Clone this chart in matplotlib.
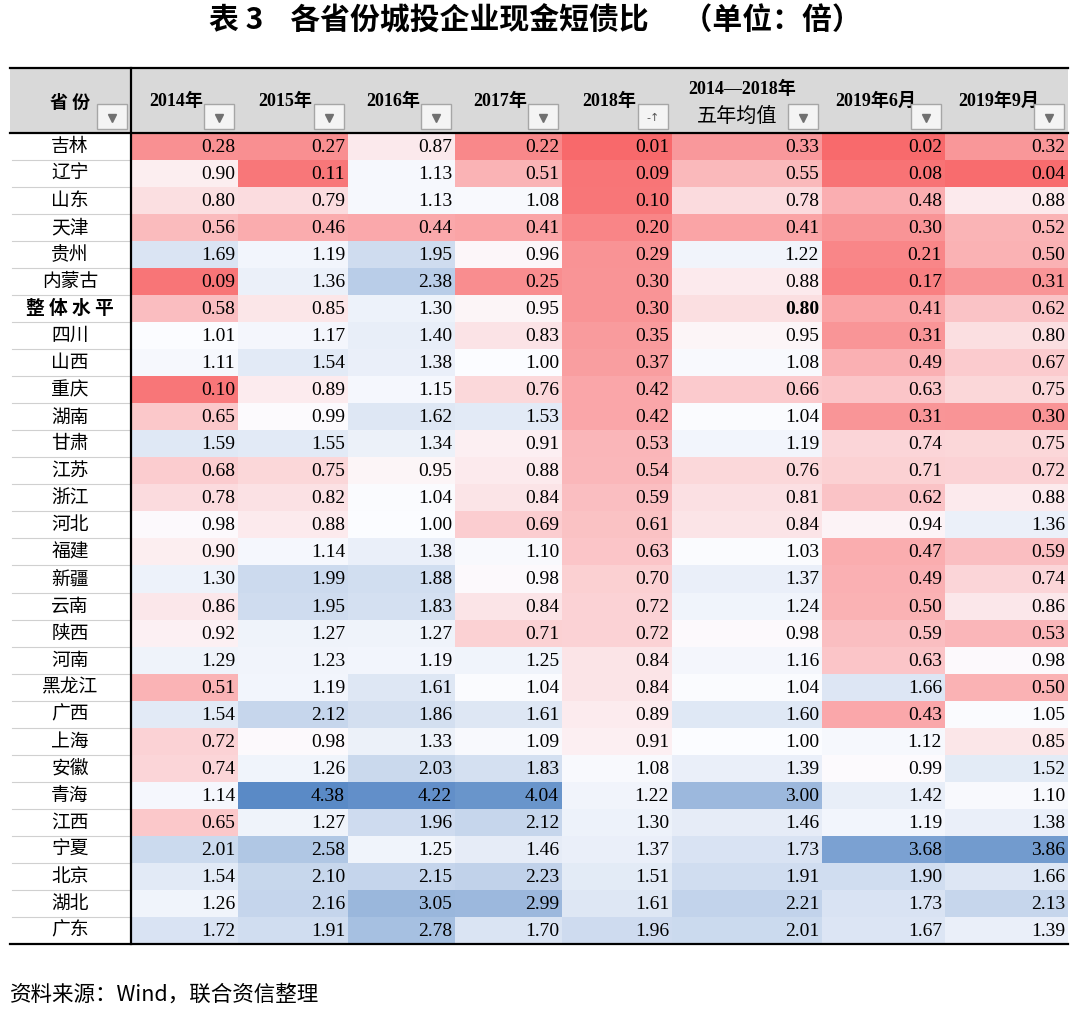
import numpy as np
import matplotlib
matplotlib.use("Agg")
import matplotlib.pyplot as plt
from matplotlib.colors import LinearSegmentedColormap, TwoSlopeNorm
from matplotlib.patches import Rectangle

# ---- data ----
provinces = ["吉林", "辽宁", "山东", "天津", "贵州", "内蒙古", "整体水平", "四川", "山西", "重庆",
             "湖南", "甘肃", "江苏", "浙江", "河北", "福建", "新疆", "云南", "陕西", "河南",
             "黑龙江", "广西", "上海", "安徽", "青海", "江西", "宁夏", "北京", "湖北", "广东"]
col_labels = ["2014年", "2015年", "2016年", "2017年", "2018年", "2014—2018年\n五年均值", "2019年6月", "2019年9月"]
y2014 = [0.28, 0.90, 0.80, 0.56, 1.69, 0.09, 0.58, 1.01, 1.11, 0.10, 0.65, 1.59, 0.68, 0.78, 0.98,
         0.90, 1.30, 0.86, 0.92, 1.29, 0.51, 1.54, 0.72, 0.74, 1.14, 0.65, 2.01, 1.54, 1.26, 1.72]
y2015 = [0.27, 0.11, 0.79, 0.46, 1.19, 1.36, 0.85, 1.17, 1.54, 0.89, 0.99, 1.55, 0.75, 0.82, 0.88,
         1.14, 1.99, 1.95, 1.27, 1.23, 1.19, 2.12, 0.98, 1.26, 4.38, 1.27, 2.58, 2.10, 2.16, 1.91]
y2016 = [0.87, 1.13, 1.13, 0.44, 1.95, 2.38, 1.30, 1.40, 1.38, 1.15, 1.62, 1.34, 0.95, 1.04, 1.00,
         1.38, 1.88, 1.83, 1.27, 1.19, 1.61, 1.86, 1.33, 2.03, 4.22, 1.96, 1.25, 2.15, 3.05, 2.78]
y2017 = [0.22, 0.51, 1.08, 0.41, 0.96, 0.25, 0.95, 0.83, 1.00, 0.76, 1.53, 0.91, 0.88, 0.84, 0.69,
         1.10, 0.98, 0.84, 0.71, 1.25, 1.04, 1.61, 1.09, 1.83, 4.04, 2.12, 1.46, 2.23, 2.99, 1.70]
y2018 = [0.01, 0.09, 0.10, 0.20, 0.29, 0.30, 0.30, 0.35, 0.37, 0.42, 0.42, 0.53, 0.54, 0.59, 0.61,
         0.63, 0.70, 0.72, 0.72, 0.84, 0.84, 0.89, 0.91, 1.08, 1.22, 1.30, 1.37, 1.51, 1.61, 1.96]
avg5 = [0.33, 0.55, 0.78, 0.41, 1.22, 0.88, 0.80, 0.95, 1.08, 0.66, 1.04, 1.19, 0.76, 0.81, 0.84,
        1.03, 1.37, 1.24, 0.98, 1.16, 1.04, 1.60, 1.00, 1.39, 3.00, 1.46, 1.73, 1.91, 2.21, 2.01]
m2019_6 = [0.02, 0.08, 0.48, 0.30, 0.21, 0.17, 0.41, 0.31, 0.49, 0.63, 0.31, 0.74, 0.71, 0.62, 0.94,
           0.47, 0.49, 0.50, 0.59, 0.63, 1.66, 0.43, 1.12, 0.99, 1.42, 1.19, 3.68, 1.90, 1.73, 1.67]
m2019_9 = [0.32, 0.04, 0.88, 0.52, 0.50, 0.31, 0.62, 0.80, 0.67, 0.75, 0.30, 0.75, 0.72, 0.88, 1.36,
           0.59, 0.74, 0.86, 0.53, 0.98, 0.50, 1.05, 0.85, 1.52, 1.10, 1.38, 3.86, 1.66, 2.13, 1.39]

values = np.array([y2014, y2015, y2016, y2017, y2018, avg5, m2019_6, m2019_9]).T

# ---- layout (pixels) ----
W, H = 1080, 1013
x_left, x_split = 10, 131
col_edges = [131, 238, 348, 455, 562, 672, 822, 945, 1068]
y_top, y_head = 68, 133
row_h = 27.03
row_edges = [y_head + i * row_h for i in range(len(provinces) + 1)]
y_bot = row_edges[-1]

SERIF = ["Liberation Serif", "Noto Sans CJK SC"]
CJK = ["Noto Sans CJK SC", "DejaVu Sans"]

fig = plt.figure(figsize=(W / 100, H / 100), dpi=100)
ax = fig.add_axes([0, 0, 1, 1])
ax.set_xlim(0, W)
ax.set_ylim(H, 0)
ax.axis("off")

# colour scale like Excel 3-colour scale (red - white - blue), midpoint around 1x
cmap = LinearSegmentedColormap.from_list("rwb", ["#F8696B", "#FCFCFF", "#5A8AC6"])
norm = TwoSlopeNorm(vmin=values.min(), vcenter=1.0, vmax=values.max())
ax.pcolormesh(col_edges, row_edges, values, cmap=cmap, norm=norm, shading="flat", edgecolors="none")

# header background
ax.add_patch(Rectangle((x_left, y_top), col_edges[-1] - x_left, y_head - y_top,
                       facecolor="#D9D9D9", edgecolor="none", zorder=1))

# title
ax.text(535, 21, "表 3    各省份城投企业现金短债比     （单位：倍）", ha="center", va="center",
        fontsize=21.5, fontweight="bold", family=CJK)


def dropdown(xr, yb, sort=False):
    bw, bh = 30, 25
    ax.add_patch(Rectangle((xr - bw, yb - bh), bw, bh, facecolor="#F4F4F4",
                           edgecolor="#A6A6A6", lw=1, zorder=3))
    if sort:
        ax.text(xr - bw / 2, yb - bh / 2 + 1, "-↑", ha="center", va="center", fontsize=8,
                color="#555555", family=["DejaVu Sans"], zorder=4)
    else:
        ax.plot([xr - bw / 2], [yb - bh / 2 + 1], marker="v", ms=6, color="#707070",
                mec="#707070", zorder=4)


# header texts
ax.text(70, 102, "省 份", ha="center", va="center", fontsize=13, fontweight="bold", family=CJK)
dropdown(x_split - 4, y_head - 4)
for i, lab in enumerate(col_labels):
    x0, x1 = col_edges[i], col_edges[i + 1]
    if "\n" in lab:
        l1, l2 = lab.split("\n")
        ax.text((x0 + x1) / 2 - 5, 89, l1, ha="center", va="center", fontsize=13,
                fontweight="bold", family=SERIF)
        ax.text((x0 + x1) / 2 - 10, 116, l2, ha="center", va="center", fontsize=14.5,
                family=CJK)
    else:
        ax.text((x0 + x1) / 2 - 8, 101, lab, ha="center", va="center", fontsize=13,
                fontweight="bold", family=SERIF)
    dropdown(x1 - 4, y_head - 4, sort=(i == 4))

# body texts
for r, prov in enumerate(provinces):
    yc = (row_edges[r] + row_edges[r + 1]) / 2
    bold = prov == "整体水平"
    ax.text(70, yc, " ".join(prov) if bold else prov, ha="center", va="center", fontsize=13.5,
            fontweight="bold" if bold else "normal", family=CJK)
    for c in range(values.shape[1]):
        fw = "bold" if (bold and c == 5) else "normal"
        ax.text(col_edges[c + 1] - 3, yc + 1, f"{values[r, c]:.2f}", ha="right", va="center",
                fontsize=14, fontweight=fw, family=SERIF)
    if r < len(provinces) - 1:
        ax.plot([x_left + 2, x_split], [row_edges[r + 1]] * 2, color="#D0D0D0", lw=0.8)

# borders
ax.plot([x_left, col_edges[-1]], [y_top, y_top], color="black", lw=1.6)
ax.plot([x_left, col_edges[-1]], [y_head, y_head], color="black", lw=1.6)
ax.plot([x_left, col_edges[-1]], [y_bot, y_bot], color="black", lw=1.6)
ax.plot([x_split, x_split], [y_top, y_bot], color="black", lw=1.6)

# source
ax.text(10, 995, "资料来源：Wind，联合资信整理", ha="left", va="center", fontsize=15.5, family=CJK)

fig.savefig("out.png", dpi=100)
